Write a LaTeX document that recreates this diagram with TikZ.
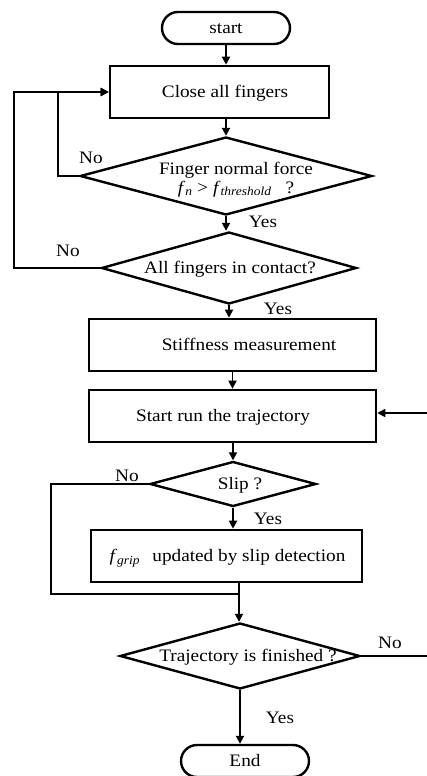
\documentclass[tikz,border=0pt]{standalone}
\usepackage{fontspec}
\setmainfont{Liberation Serif}[FakeStretch=1.1]
\usetikzlibrary{arrows.meta,shapes.geometric}
\newcommand{\ctxt}[2][0pt]{\raisebox{-0.33em}[0pt][0pt]{\makebox[0pt]{\kern#1\relax#2\kern-#1\relax}}}
\begin{document}
\begin{tikzpicture}[x=1pt,y=-1pt,
  font=\fontsize{17.5}{20}\selectfont,
  term/.style={draw, line width=2.4pt, rounded corners=16pt, minimum width=128pt, minimum height=32pt, inner sep=0pt},
  proc/.style={draw, line width=2.6pt, minimum height=52pt, inner sep=0pt},
  dec/.style={draw, diamond, line width=2.4pt, inner sep=0pt},
  conn/.style={line width=1.8pt},
  arr/.style={conn, -{Triangle[length=8pt,width=8pt]}},
  lbl/.style={inner sep=0pt}]
\useasboundingbox (0,0) rectangle (427,776);
% nodes
\node[term] (start) at (226,28) {\ctxt{start}};
\node[proc, minimum width=219pt] (close) at (219.5,92) {\ctxt[5.5pt]{Close all fingers}};
\node[dec, minimum width=292pt, minimum height=78pt] (d1) at (226,176)
  {\raisebox{-8pt}[0pt][0pt]{\makebox[0pt]{\kern10pt\begin{tabular}{@{}c@{}}Finger normal force\\[-1pt]
   \textit{f}\textsubscript{\textit{n}} > \textit{f}\textsubscript{\textit{threshold}}\hspace{0.8em}?\end{tabular}\kern-10pt}}};
\node[dec, minimum width=255pt, minimum height=72pt] (d2) at (229,268) {\ctxt[1pt]{All fingers in contact?}};
\node[proc, minimum width=287pt] (stiff) at (232.5,345) {\ctxt[16.5pt]{Stiffness measurement}};
\node[proc, minimum width=287pt] (run) at (232.5,416) {\ctxt[-9.5pt]{Start run the trajectory}};
\node[dec, minimum width=166pt, minimum height=45pt] (slip) at (233,484) {\ctxt[7pt]{Slip ?}};
\node[proc, minimum width=271pt] (grip) at (226.5,556)
  {\ctxt[1pt]{\textit{f}\textsubscript{\textit{grip}}\hspace{0.7em}updated by slip detection}};
\node[dec, minimum width=240pt, minimum height=66pt] (traj) at (240,656) {\ctxt[8pt]{Trajectory is finished ?}};
\node[term] (end) at (245,761) {\ctxt{End}};
% labels
\node[lbl] (l1) at (91,158) {No};
\node[lbl] (l2) at (263,222) {Yes};
\node[lbl] (l3) at (68,251) {No};
\node[lbl] (l4) at (278,309) {Yes};
\node[lbl] (l5) at (127,476) {No};
\node[lbl] (l6) at (268,519) {Yes};
\node[lbl] (l7) at (390,643) {No};
\node[lbl] (l8) at (280,718) {Yes};
% coordinates
\coordinate (jn) at (239,594);
\coordinate (rA) at (427,656);
\coordinate (rB) at (427,413);
% connectors
\draw[arr] (start.south) -- (start.south |- close.north);
\draw[arr] (d1.north |- close.south) -- (d1.north);
\draw[arr] (d1.south) -- (d1.south |- d2.north);
\draw[arr] (d2.south) -- (d2.south |- stiff.north);
\draw[arr] (stiff.south) -- (stiff.south |- run.north);
\draw[arr] (slip.north |- run.south) -- (slip.north);
\draw[arr] (slip.south) -- (slip.south |- grip.north);
\draw[arr] (jn |- grip.south) -- (jn |- traj.north);
\draw[arr] (traj.south) -- (traj.south |- end.north);
\draw[arr] (d1.west) -- ++(-21,0) |- (close.west);
\draw[arr] (d2.west) -- ++(-86,0) |- (close.west);
\draw[conn] (slip.west) -- ++(-98,0) |- (jn);
\draw[conn] (traj.east) -- (rA);
\draw[arr] (rB) -- (rB -| run.east);
\end{tikzpicture}
\end{document}
